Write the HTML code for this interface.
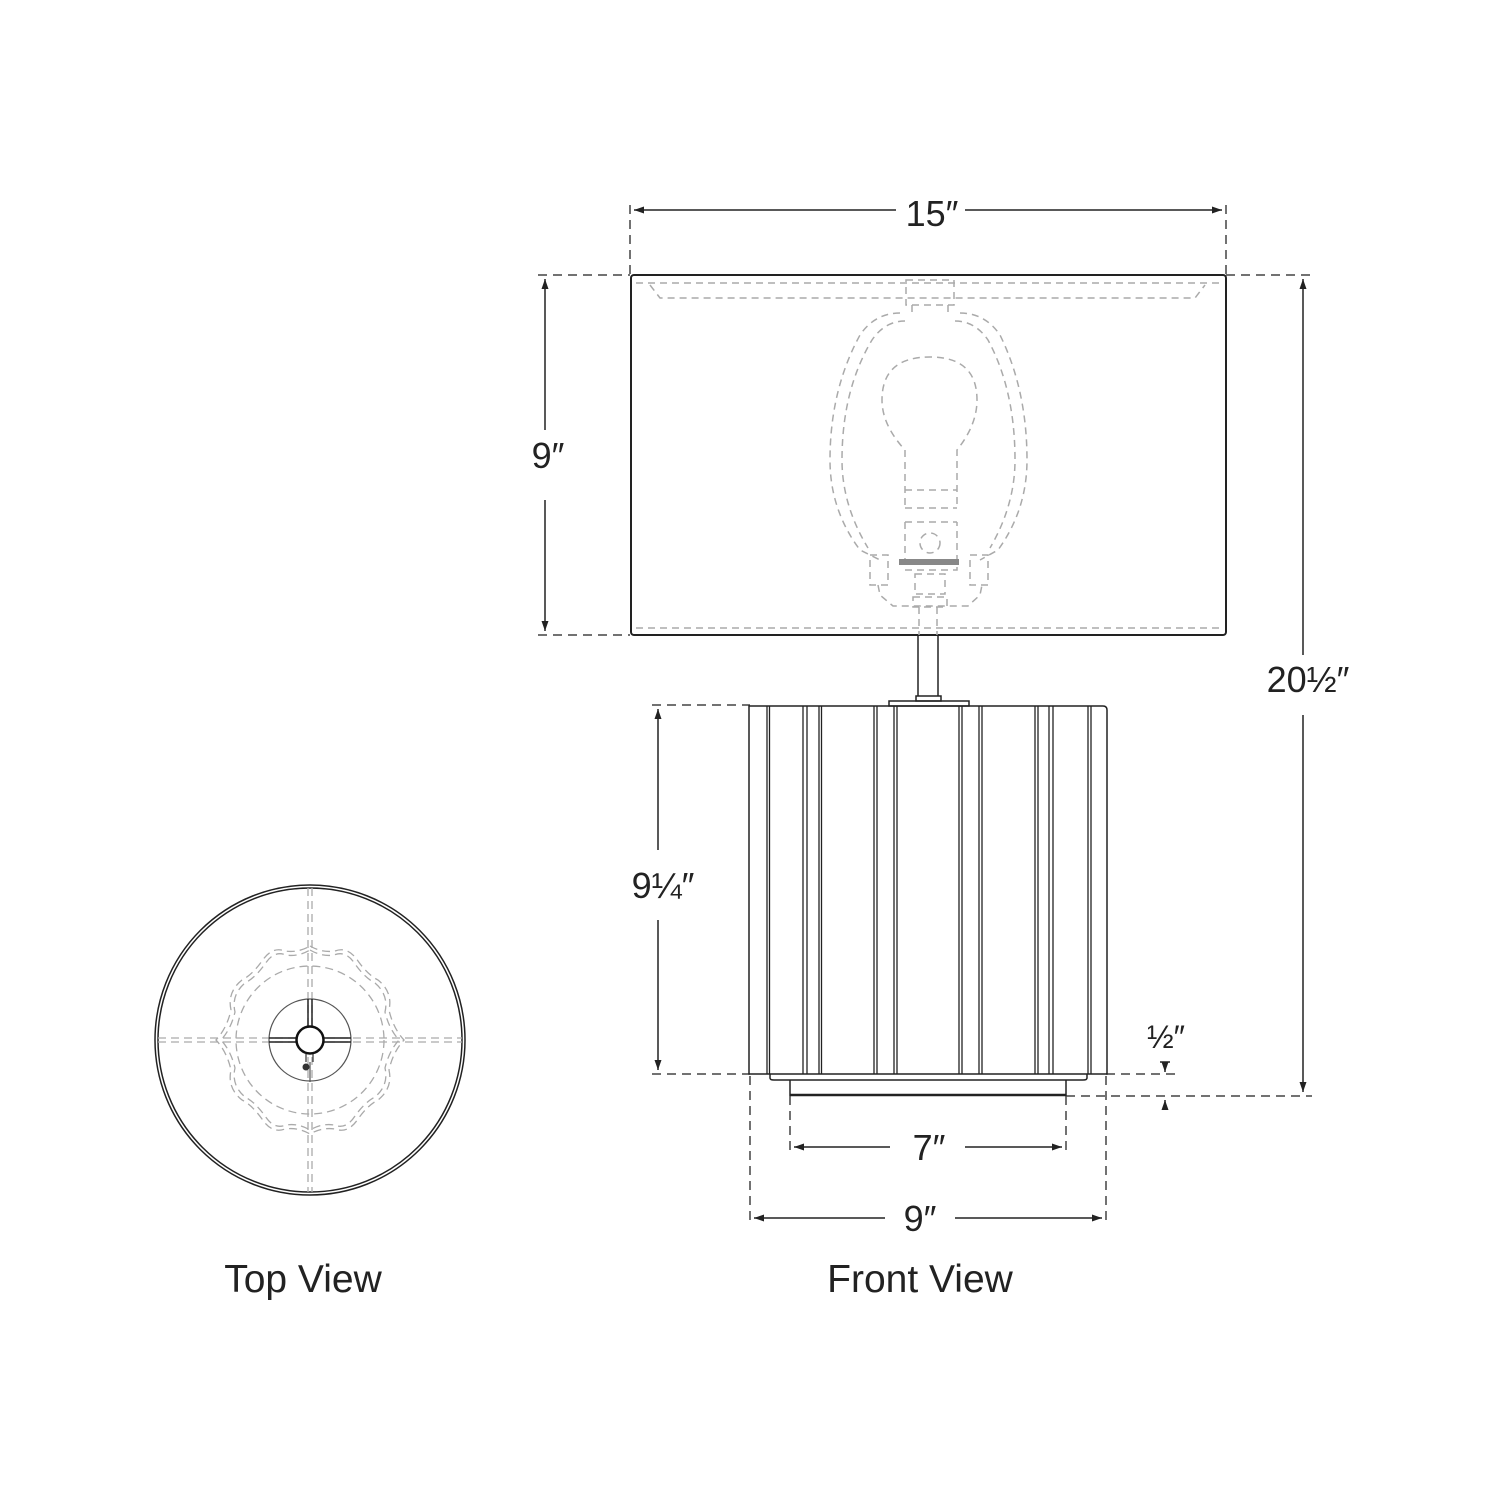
<!DOCTYPE html>
<html><head><meta charset="utf-8"><style>
html,body{margin:0;padding:0;background:#fff;}
svg{display:block}
text{font-family:"Liberation Sans",sans-serif;fill:#222;}
</style></head><body>
<svg width="1500" height="1500" viewBox="0 0 1500 1500" xmlns="http://www.w3.org/2000/svg">
<defs>
<marker id="a" viewBox="0 0 10 10" refX="10" refY="5" markerWidth="10" markerHeight="10" orient="auto-start-reverse" markerUnits="userSpaceOnUse"><path d="M0,1.5 L10,5 L0,8.5 Z" fill="#222"/></marker>
</defs>
<g fill="none" stroke="#444" stroke-width="1.5" stroke-dasharray="9,6">
<line x1="630" y1="205" x2="630" y2="275"/><line x1="1226" y1="205" x2="1226" y2="275"/>
<line x1="538" y1="275" x2="630" y2="275"/><line x1="1226" y1="275" x2="1312" y2="275"/>
<line x1="538" y1="635" x2="630" y2="635"/>
<line x1="652" y1="705" x2="750" y2="705"/><line x1="652" y1="1074" x2="750" y2="1074"/>
<line x1="1106" y1="1074" x2="1175" y2="1074"/><line x1="1066" y1="1096" x2="1312" y2="1096"/>
<line x1="790" y1="1096" x2="790" y2="1152"/><line x1="1066" y1="1096" x2="1066" y2="1152"/>
<line x1="750" y1="1076" x2="750" y2="1224"/><line x1="1106" y1="1076" x2="1106" y2="1224"/>
</g>
<g stroke="#222" stroke-width="1.5" fill="none">
<line x1="634" y1="210" x2="896" y2="210" marker-start="url(#a)"/><line x1="965" y1="210" x2="1222" y2="210" marker-end="url(#a)"/>
<line x1="545" y1="279" x2="545" y2="430" marker-start="url(#a)"/><line x1="545" y1="500" x2="545" y2="631" marker-end="url(#a)"/>
<line x1="1303" y1="279" x2="1303" y2="655" marker-start="url(#a)"/><line x1="1303" y1="715" x2="1303" y2="1092" marker-end="url(#a)"/>
<line x1="658" y1="709" x2="658" y2="850" marker-start="url(#a)"/><line x1="658" y1="920" x2="658" y2="1070" marker-end="url(#a)"/>
<line x1="794" y1="1147" x2="890" y2="1147" marker-start="url(#a)"/><line x1="965" y1="1147" x2="1062" y2="1147" marker-end="url(#a)"/>
<line x1="754" y1="1218" x2="885" y2="1218" marker-start="url(#a)"/><line x1="955" y1="1218" x2="1102" y2="1218" marker-end="url(#a)"/>
<line x1="1165" y1="1062" x2="1165" y2="1072" marker-end="url(#a)"/><line x1="1160" y1="1062" x2="1170" y2="1062"/>
<line x1="1165" y1="1110" x2="1165" y2="1100" marker-end="url(#a)"/>
</g>
<g font-size="36" text-anchor="middle">
<text x="932" y="226">15″</text>
<text x="548" y="468">9″</text>
<text x="1308" y="692">20½″</text>
<text x="663" y="898">9¼″</text>
<text x="1166" y="1048" font-size="32">½″</text>
<text x="929" y="1160">7″</text>
<text x="920" y="1231">9″</text>
<text x="303" y="1292" font-size="39">Top View</text>
<text x="920" y="1292" font-size="39">Front View</text>
</g>
<!-- shade -->
<rect x="631" y="275" width="595" height="360" rx="3" fill="none" stroke="#222" stroke-width="2"/>
<g fill="none" stroke="#aaa" stroke-width="1.5" stroke-dasharray="7,5">
<line x1="636" y1="283" x2="1220" y2="283"/>
<path d="M650 285 L660 298 L1195 298 L1205 285"/>
<line x1="636" y1="628" x2="1220" y2="628"/>
<rect x="906" y="280" width="48" height="25"/>
<path d="M912 305 L912 313 M948 305 L948 313"/>
<path d="M900 313 Q875 313 860 335 Q830 390 830 460 Q830 510 860 550 L880 560 M960 313 Q985 313 1000 335 Q1027 390 1027 460 Q1027 510 998 550 L980 560"/>
<path d="M905 321 Q885 321 872 340 Q842 390 842 460 Q842 505 868 548 M955 321 Q975 321 988 340 Q1015 390 1015 460 Q1015 505 990 548"/>
<path d="M905 505 L905 450 Q882 425 882 400 Q882 357 930 357 Q977 357 977 400 Q977 425 957 450 L957 505"/>
<path d="M905 490 L957 490 M905 508 L957 508 M905 522 L957 522 M905 522 L905 570 L957 570 L957 522"/>
<circle cx="930" cy="543" r="10"/>
<rect x="870" y="555" width="18" height="30"/><rect x="970" y="555" width="18" height="30"/>
<path d="M878 585 L880 595 L893 606 L968 606 L980 595 L982 585"/>
<rect x="915" y="574" width="30" height="20"/><rect x="913" y="597" width="34" height="10"/>
<line x1="919" y1="607" x2="919" y2="635"/><line x1="937" y1="607" x2="937" y2="635"/>
</g>
<rect x="899" y="559" width="60" height="6" fill="#888"/>
<!-- stem -->
<g fill="none" stroke="#222" stroke-width="1.5">
<line x1="918" y1="636" x2="918" y2="696"/><line x1="938" y1="636" x2="938" y2="696"/>
<rect x="916" y="696" width="25" height="5"/>
<rect x="889" y="701" width="80" height="5"/>
<!-- base -->
<path d="M749 706 L1103 706 Q1107 706 1107 710 L1107 1074 L749 1074 Z"/>
<path d="M770 1074 L770 1078 Q770 1080 774 1080 L1083 1080 Q1087 1080 1087 1078 L1087 1074"/>
<line x1="790" y1="1080" x2="790" y2="1096"/><line x1="1066" y1="1080" x2="1066" y2="1096"/>
<line x1="790" y1="1095" x2="1066" y2="1095" stroke-width="2.5"/>
<g stroke-width="1.3">
<path d="M767 706 V1074 M769.5 706 V1074"/>
<path d="M803 706 V1074 M807 706 V1074"/>
<path d="M819 706 V1074 M821.5 706 V1074"/>
<path d="M874 706 V1074 M877 706 V1074"/>
<path d="M894 706 V1074 M897 706 V1074"/>
<path d="M959 706 V1074 M962 706 V1074"/>
<path d="M979 706 V1074 M982 706 V1074"/>
<path d="M1035 706 V1074 M1038 706 V1074"/>
<path d="M1049 706 V1074 M1053 706 V1074"/>
<path d="M1088 706 V1074 M1091 706 V1074"/>
</g>
</g>
<!-- top view -->
<g fill="none">
<circle cx="310" cy="1040" r="155" stroke="#222" stroke-width="1.5"/>
<circle cx="310" cy="1040" r="152" stroke="#222" stroke-width="1.5"/>
<g stroke="#aaa" stroke-width="1.3" stroke-dasharray="8,5">
<line x1="158" y1="1038" x2="462" y2="1038"/><line x1="158" y1="1042" x2="462" y2="1042"/>
<line x1="308" y1="888" x2="308" y2="1192"/><line x1="312" y1="888" x2="312" y2="1192"/>
<circle cx="310" cy="1040" r="74"/>
<path d="M310 946 Q322 953 335 951 Q348 946 358 961 Q368 975 378 980 Q393 992 389 1010 Q393 1028 404 1040 Q393 1052 389 1070 Q393 1088 378 1100 Q368 1105 358 1119 Q348 1134 335 1129 Q322 1127 310 1134 Q298 1127 285 1129 Q272 1134 262 1119 Q252 1105 242 1100 Q227 1088 231 1070 Q227 1052 216 1040 Q227 1028 231 1010 Q227 992 242 980 Q252 975 262 961 Q272 946 285 951 Q298 953 310 946 Z"/>
<path d="M310 950 Q322 957 334 955 Q346 950 355 964 Q365 978 375 983 Q389 995 385 1012 Q389 1029 399 1040 Q389 1051 385 1068 Q389 1085 375 1097 Q365 1102 355 1116 Q346 1130 334 1125 Q322 1123 310 1130 Q298 1123 286 1125 Q274 1130 265 1116 Q255 1102 245 1097 Q231 1085 235 1068 Q231 1051 221 1040 Q231 1029 235 1012 Q231 995 245 983 Q255 978 265 964 Q274 950 286 955 Q298 957 310 950 Z"/>
</g>
<circle cx="310" cy="1040" r="41" stroke="#555" stroke-width="1.2"/>
<g stroke="#222" stroke-width="1.5">
<line x1="269" y1="1038" x2="296" y2="1038"/><line x1="269" y1="1042" x2="296" y2="1042"/>
<line x1="324" y1="1038" x2="351" y2="1038"/><line x1="324" y1="1042" x2="351" y2="1042"/>
<line x1="308" y1="999" x2="308" y2="1026"/><line x1="312" y1="999" x2="312" y2="1026"/>
</g>
<circle cx="310" cy="1040" r="13.5" stroke="#111" stroke-width="2.5" fill="#fff"/>
<path d="M306 1054 L306 1062 M313 1054 L313 1062" stroke="#333" stroke-width="1.2"/>
<circle cx="306" cy="1067" r="3.5" fill="#333"/>
<line x1="310" y1="1062" x2="310" y2="1082" stroke="#555" stroke-width="1.2"/>
</g>
</svg>
</body></html>
